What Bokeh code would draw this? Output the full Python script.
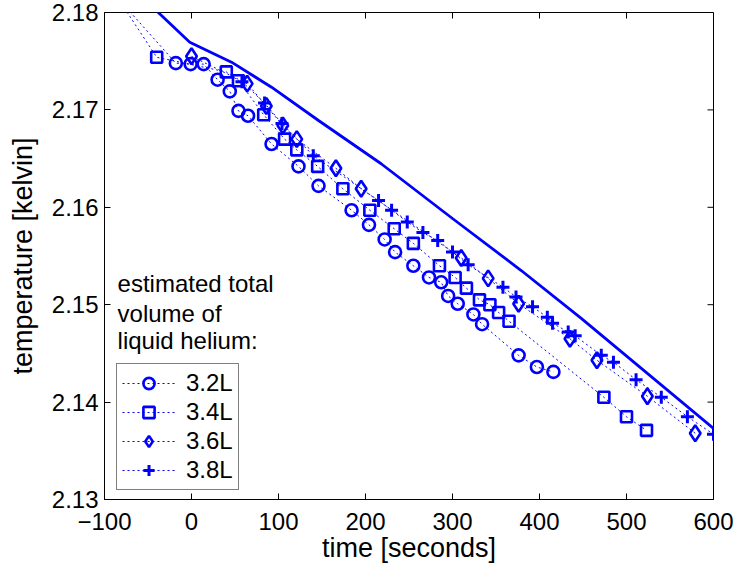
from bokeh.plotting import figure
from bokeh.models import (Range1d, FixedTicker, Legend, LegendItem,
                          Label, NumeralTickFormatter)
from bokeh.embed import file_html
from bokeh.resources import INLINE

FONT = "Liberation Sans"
BLUE = "#0000ff"

# time [s] and temperature [K] for each estimated helium volume
t_32 = [-90, -18, -1, 14, 30, 44, 54, 65, 92, 123, 146, 184, 204, 222, 234, 255,
        273, 287, 295, 306, 324, 334, 376, 397, 416]
T_32 = [2.1820, 2.1748, 2.1747, 2.1747, 2.1731, 2.1719, 2.1699, 2.1694, 2.1665,
        2.1642, 2.1622, 2.1597, 2.1582, 2.1567, 2.1554, 2.1540, 2.1528, 2.1523,
        2.1509, 2.1501, 2.1490, 2.1480, 2.1448, 2.1436, 2.1431]

t_34 = [-90, -40, 40, 54, 83, 107, 121, 145, 174, 205, 233, 255, 285, 303, 316,
        331, 343, 353, 365, 474, 500, 523]
T_34 = [2.1822, 2.1754, 2.1739, 2.1730, 2.1695, 2.1670, 2.1659, 2.1642, 2.1619,
        2.1597, 2.1578, 2.1563, 2.1540, 2.1528, 2.1517, 2.1505, 2.1500, 2.1492,
        2.1483, 2.1405, 2.1385, 2.1371]

t_36 = [0, 64, 86, 105, 121, 166, 195, 310, 341, 376, 435, 466, 524, 579]
T_36 = [2.1755, 2.1727, 2.1704, 2.1684, 2.1670, 2.1640, 2.1619, 2.1548, 2.1527,
        2.1501, 2.1465, 2.1443, 2.1406, 2.1368]

t_38 = [58, 84, 104, 140, 215, 230, 248, 266, 283, 300, 318, 358, 373, 392, 409,
        415, 433, 441, 471, 485, 511, 540, 570, 600]
T_38 = [2.1729, 2.1707, 2.1686, 2.1653, 2.1607, 2.1597, 2.1585, 2.1574, 2.1566,
        2.1554, 2.1541, 2.1518, 2.1508, 2.1498, 2.1487, 2.1481, 2.1472, 2.1468,
        2.1448, 2.1441, 2.1423, 2.1405, 2.1385, 2.1367]

# solid reference curve
t_curve = [-50, -2, 46, 92, 146, 218, 300, 379, 448, 600]
T_curve = [2.1810, 2.17695, 2.1749, 2.17233, 2.16891, 2.16447, 2.15885,
           2.15351, 2.1486, 2.1373]

labels = ["3.2L", "3.4L", "3.6L", "3.8L"]
x_ticks = [-100, 0, 100, 200, 300, 400, 500, 600]
y_ticks = [2.13, 2.14, 2.15, 2.16, 2.17, 2.18]

X0, X1 = -100, 600
Y0, Y1 = 2.13, 2.18
W, H = 737, 565
LEFT, RIGHT, TOP, BOTTOM = 104, 24, 12, 66
TICK = 6  # inward tick length in px

p = figure(width=W, height=H, x_range=Range1d(X0, X1),
           y_range=Range1d(Y0, Y1), output_backend="svg",
           toolbar_location=None, min_border_left=LEFT, min_border_right=RIGHT,
           min_border_top=TOP, min_border_bottom=BOTTOM)
p.background_fill_color = "white"
p.border_fill_color = "white"
p.outline_line_color = "black"
p.outline_line_width = 1
p.xgrid.visible = False
p.ygrid.visible = False

p.xaxis.ticker = FixedTicker(ticks=x_ticks)
p.yaxis.ticker = FixedTicker(ticks=y_ticks)
p.yaxis.formatter = NumeralTickFormatter(format="0.00")
for ax in (p.xaxis[0], p.yaxis[0]):
    ax.axis_line_color = "black"
    ax.major_tick_line_color = "black"
    ax.major_tick_in = TICK
    ax.major_tick_out = 0
    ax.minor_tick_line_color = None
    ax.major_label_text_font = FONT
    ax.major_label_text_font_size = "24px"
    ax.major_label_text_color = "black"
    ax.axis_label_text_font = FONT
    ax.axis_label_text_font_size = "27px"
    ax.axis_label_text_font_style = "normal"
    ax.axis_label_text_color = "black"
p.xaxis.major_label_standoff = 13
p.yaxis.major_label_standoff = 6
p.xaxis.axis_label = "time [seconds]"
p.yaxis.axis_label = "temperature [kelvin]"
p.xaxis.axis_label_standoff = 0
p.yaxis.axis_label_standoff = 11

# inward ticks on the top and right edges of the box
fw = W - LEFT - RIGHT
fh = H - TOP - BOTTOM
dx = TICK * (X1 - X0) / fw
dy = TICK * (Y1 - Y0) / fh
p.segment(x0=x_ticks, y0=[Y1] * len(x_ticks), x1=x_ticks,
          y1=[Y1 - dy] * len(x_ticks), line_color="black", line_width=1)
p.segment(x0=[X1] * len(y_ticks), y0=y_ticks, x1=[X1 - dx] * len(y_ticks),
          y1=y_ticks, line_color="black", line_width=1)

# solid curve
p.line(t_curve, T_curve, line_color=BLUE, line_width=2.8)

items = []
series = [(t_32, T_32, "circle", 12, 2.6),
          (t_34, T_34, "square", 11, 2.6),
          (t_36, T_36, "diamond", 16, 2.6),
          (t_38, T_38, "cross", 13, 3.0)]
for (tx, ty, marker, size, lw), lab in zip(series, labels):
    ln = p.line(tx, ty, line_color=BLUE, line_width=1, line_dash="2 3")
    sc = p.scatter(tx, ty, marker=marker, size=size, line_color=BLUE,
                   fill_color=None, line_width=lw)
    items.append(LegendItem(label=lab, renderers=[ln, sc]))

legend = Legend(items=items, location=(12, 9))
legend.label_text_font = FONT
legend.label_text_font_size = "24px"
legend.label_text_color = "black"
legend.border_line_color = "black"
legend.border_line_width = 1
legend.background_fill_color = "white"
legend.background_fill_alpha = 1
legend.padding = 5
legend.spacing = 1
legend.margin = 0
legend.glyph_width = 53
legend.glyph_height = 28
legend.label_height = 28
legend.label_standoff = 11
p.add_layout(legend)

for txt, yv in [("estimated total", 2.1522), ("volume of", 2.1491),
                ("liquid helium:", 2.1463)]:
    p.add_layout(Label(x=-85, y=yv, text=txt, text_font=FONT,
                       text_font_size="24px", text_baseline="middle",
                       text_color="black"))

open("out.html", "w").write(file_html(p, INLINE))
